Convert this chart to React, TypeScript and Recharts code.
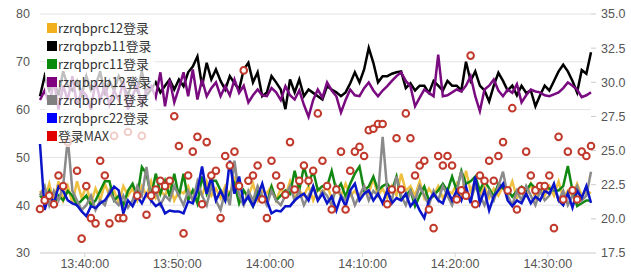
import React from 'react';
import { ComposedChart, Line, Scatter, XAxis, YAxis, CartesianGrid, Legend } from 'recharts';

const START_SEC = 13 * 3600 + 35 * 60 + 10;
const STEP_SEC = 30;

const prc12 = [
  43, 41, 44.5, 40.5, 45, 41, 44, 40.5, 45, 41.5, 44, 40.5, 43.5, 41, 44.5, 42, 43, 40.5, 44, 42,
  43.5, 41, 44, 42, 45, 41.5, 43, 42, 44.5, 41, 43, 42.5, 44, 41, 43.5, 42, 45, 42, 43.5, 41.5,
  44, 42, 46, 41.5, 43, 42, 44.5, 41, 43, 42.5, 44, 41, 43.5, 42, 45, 41.5, 43, 42, 44, 41,
  43.5, 42.5, 44, 41.5, 43, 42, 44.5, 42, 43, 41.5, 44, 42.5, 45.6, 42, 43.5, 41.5, 44, 42, 46.6, 43,
  44, 42, 45, 41.5, 43.5, 42, 44, 41.5, 43, 42.5, 44.5, 42, 47.2, 43, 45, 42, 44, 41.5, 43.5, 42,
  44, 42.5, 45, 41.5, 43, 42, 44.5, 41.5, 43.5, 42, 44, 42, 45, 41.5, 43, 42, 44.5, 42, 43, 42.5,
];

const pzb11 = [
  62.8, 67, 64, 66, 63, 68, 65, 64, 66, 63, 67, 64, 65, 68, 63, 66, 64, 67, 65, 63,
  66, 64, 68, 63, 64.2, 65.7, 63.6, 65, 66.3, 64.2, 66.3, 64.9, 67.8, 69, 71.1, 64.9, 69.8, 66.3, 68.4, 66,
  64.2, 67, 65.5, 64.2, 68.4, 69.8, 65.7, 67.8, 62.8, 63.6, 67, 65.7, 64.2, 60.1, 66.3, 63.6, 66.3, 62.8, 64.2, 63.5,
  62.8, 62.1, 64.9, 64.2, 63.6, 62.8, 63.6, 65.5, 67.8, 65.7, 68.4, 72.9, 69.8, 65.7, 67, 67, 67.5, 67.8, 68, 64.5,
  65.5, 64, 65, 65, 63.5, 66, 65, 64, 66, 65, 65, 64, 70, 66, 68, 65, 64, 61.7, 65, 67.7,
  66, 64, 65, 63, 65, 63.5, 64, 60.7, 63, 65, 64, 66, 68, 69.4, 68, 66, 63.6, 68.3, 67.5, 72,
];

const prc11 = [
  42, 41, 43, 40, 42, 41, 43, 42, 40, 41, 42, 40, 41, 43, 45, 45, 41, 42, 40, 43,
  44.5, 41.8, 48, 46.6, 41.8, 46.6, 42.4, 45.1, 41.8, 46.6, 41.8, 46.6, 41, 43.1, 40.4, 46, 42.4, 45.1, 45.1, 43.1,
  41, 42.5, 44.5, 40.4, 43.1, 41.5, 39.8, 43.1, 41.5, 40.4, 43.9, 41, 42, 43.1, 42.4, 47.2, 43.1, 48.1, 44.5, 47.2,
  43.1, 44, 43.9, 47.2, 43.1, 44.5, 41.8, 44.5, 46.6, 48.1, 43.1, 43.9, 46, 43.1, 44, 44.5, 43.1, 46, 41.5, 42,
  43.1, 39.8, 42, 43.9, 41, 42, 43.1, 44.5, 43, 46, 43.1, 47.2, 44.5, 45, 46, 43.1, 45.1, 43.5, 41.8, 44.5,
  43.5, 43.1, 41.8, 43, 43.9, 43.1, 44.5, 43.5, 43.1, 43.9, 43.5, 43.1, 43.1, 44, 48.2, 43.1, 39.8, 40.4, 41, 41,
];

const pzb12 = [
  62, 64, 61, 66, 60, 65, 62, 67, 61, 64, 63, 60, 66, 62, 65, 61, 64, 62, 66, 60,
  63, 65, 61, 64, 64.9, 62.6, 67.8, 60.7, 66.3, 61.5, 64.5, 67.8, 62.8, 68.4, 62.1, 66.3, 62.8, 64.5, 65.7, 62.8,
  64.9, 63, 66.3, 63.5, 65, 61.5, 63, 64.2, 63, 62.8, 64.5, 63.6, 62, 64.9, 63, 62.1, 64, 61, 58.5, 62,
  64.2, 62.5, 65.7, 64, 62.8, 59.4, 62, 64.2, 63, 62.8, 64.5, 65.7, 64, 62.8, 64, 64.9, 66, 67, 67.8, 66,
  64.9, 60.7, 62.5, 64.2, 63.5, 62.8, 71.5, 62.8, 63, 63.6, 64.2, 63.8, 65, 67, 62.8, 59.7, 64.2, 65, 66.3, 64,
  62.8, 64.2, 63.5, 65.3, 61.5, 63, 64.2, 63.8, 63.6, 63, 62.8, 63.2, 63.6, 64.5, 65.7, 65, 64.2, 62.6, 63, 63.6,
];

const prc21 = [
  42, 44, 40, 43, 41, 44, 54, 43, 41, 39, 40, 42, 39, 41, 40, 43, 41, 40, 42, 39.5,
  41, 44, 42, 48, 41, 43, 40, 42, 41, 44, 42, 40, 43, 41, 45, 42, 40, 44, 41, 39,
  43, 40, 49.3, 42, 40, 43, 41, 44, 42, 40, 43, 41, 40, 42, 44, 41, 43, 40, 42, 44,
  41, 43, 42, 40, 44, 42, 41, 43, 40, 42, 44, 41, 43, 42, 54.3, 43, 41, 46, 42, 40,
  43, 41, 44, 42, 40, 43, 41, 44, 42, 40, 43, 47.2, 42, 41, 44, 42, 40, 43, 41, 44,
  47, 42, 40, 43, 41, 44, 42, 40, 43, 41, 42, 44, 41, 43, 40, 42, 44, 41, 42, 47,
];

const prc22 = [
  52.8, 39, 42.4, 40.4, 43.9, 43, 41, 40.4, 40, 38.7, 37.7, 39.8, 39.4, 40.4, 41, 42.4, 43.9, 43.1, 38.3, 41,
  39.8, 41.8, 40.4, 42.4, 41, 39.8, 40.4, 38.3, 38.9, 38.7, 38.7, 38.3, 40.8, 40.4, 43.1, 48.1, 42.4, 46, 41, 43,
  41, 49.3, 42.4, 46, 40.4, 41.8, 39.8, 41.8, 44.5, 41, 38.3, 38.9, 38.7, 39.8, 39.8, 41, 41.8, 42.4, 41, 43.9,
  41, 42.4, 40.4, 41.8, 38.9, 41.8, 39.8, 43.1, 44.5, 41, 42.4, 43.1, 41, 42.4, 40.4, 43.1, 40.4, 41.5, 41, 42.4,
  39.8, 41, 38.9, 37.3, 41, 42.4, 41, 40.4, 43.1, 41, 43.1, 41, 43.9, 40.4, 46, 40.4, 43.1, 38.9, 41.8, 43.1,
  44.5, 41, 39.8, 41, 40.4, 42.4, 40.4, 41.8, 41, 43.1, 42.4, 44.5, 41, 40, 42.5, 39.5, 43, 41.5, 44, 40.5,
];

const maxLogin: (number | null)[] = [
  39.2, 41, 42, 40.2, 46.2, 44, 53.2, null, 47.2, 33, 44, 37.3, 36.2, 49.3, 46.2, 36.2, 54.5, 37.3, 37.3, 55.3,
  null, 42, 54.5, 38, 42, 43.3, 45.1, 44, 45.1, 58.6, 52.4, 34.1, 46.2, 51.2, 54.3, 40.2, 53.2, 46.2, 47.2, 37.3,
  50.3, 48.3, 51.2, 44, 68.2, 45.1, 46.2, 48.3, 41.2, 37.3, 49.3, 46.2, 44, 42.2, 53.2, 43.3, 45.1, 48.3, 45.1, 47.2,
  59.2, 49.3, 44, 39.1, 43.3, 51.2, 39.1, 47.2, 51.2, 52.2, 50.3, 55.7, 56, 57, 57, 40.2, 43.3, 54, 43.3, 59.2,
  54, 46.2, 48.3, 49.3, 39.1, 35.2, 50.3, 48.3, 50.3, 48.3, 41.2, 43.1, 42, 71.3, 40.2, 46.2, 45.1, 49.3, 45.1, 50.3,
  53.2, 43.1, 60.3, 39.1, 43.1, 51.2, 46.2, 43.1, 44, 44, 46.2, 35.2, 54.3, 41.2, 51.2, 43.1, 41.2, 51.2, 50.3, 52.4,
];

const xTickLabels = ['13:40:00', '13:50:00', '14:00:00', '14:10:00', '14:20:00', '14:30:00'];
const leftTicks = [30, 40, 50, 60, 70, 80];
const rightTicks = [17.5, 20, 22.5, 25, 27.5, 30, 32.5, 35];

const toSec = (s: string) => {
  const [h, m, sec] = s.split(':').map(Number);
  return h * 3600 + m * 60 + sec;
};
const fmt = (v: number) => {
  const h = Math.floor(v / 3600);
  const m = Math.floor((v % 3600) / 60);
  const s = Math.round(v % 60);
  const p = (n: number) => String(n).padStart(2, '0');
  return `${p(h)}:${p(m)}:${p(s)}`;
};

const data = prc12.map((_, i) => ({
  t: START_SEC + i * STEP_SEC,
  prc12: prc12[i],
  pzb11: pzb11[i],
  prc11: prc11[i],
  pzb12: pzb12[i],
  prc21: prc21[i],
  prc22: prc22[i],
  max: maxLogin[i],
}));

const series = [
  { key: 'prc12', name: 'rzrqbprc12登录', color: '#f2b01e', line: '#f0c040' },
  { key: 'pzb11', name: 'rzrqbpzb11登录', color: '#000000', line: '#000000' },
  { key: 'prc11', name: 'rzrqbprc11登录', color: '#0a8a0a', line: '#118811' },
  { key: 'pzb12', name: 'rzrqbpzb12登录', color: '#800080', line: '#7a0a80' },
  { key: 'prc21', name: 'rzrqbprc21登录', color: '#808080', line: '#8a8a8a' },
  { key: 'prc22', name: 'rzrqbprc22登录', color: '#0000ff', line: '#0a14c8' },
];
const maxSeries = { key: 'max', name: '登录MAX', color: '#e00000', stroke: '#c0392b' };

const tickFont = { fill: '#555', fontSize: 12.5, fontFamily: '"Liberation Sans", Arial, sans-serif' };

const LegendBox = () => (
  <div
    style={{
      background: 'rgba(255,255,255,0.75)',
      padding: '2px 4px 2px 2px',
      fontFamily: '"Noto Sans CJK SC", "Noto Sans", sans-serif',
      fontSize: 12.8,
      color: '#333',
      lineHeight: '18px',
    }}
  >
    {[...series.map((s) => ({ name: s.name, color: s.color })), { name: maxSeries.name, color: maxSeries.color }].map(
      (it) => (
        <div key={it.name} style={{ display: 'flex', alignItems: 'center', height: 18 }}>
          <span style={{ width: 10, height: 10, background: it.color, display: 'inline-block', marginRight: 1 }} />
          <span>{it.name}</span>
        </div>
      )
    )}
  </div>
);

const Ring = (props: any) => {
  const { cx, cy, payload } = props;
  if (payload == null || payload.max == null || cx == null || cy == null || isNaN(cy)) return <g />;
  return <circle cx={cx} cy={cy} r={3.3} fill="#fff" stroke={maxSeries.stroke} strokeWidth={2} />;
};

export default function App() {
  return (
    <div style={{ position: 'absolute', left: 0, top: 0, width: 631, height: 280, background: '#fff' }}>
      <ComposedChart width={631} height={280} data={data} margin={{ top: 14, right: 0, left: 0, bottom: 0 }}>
        <CartesianGrid horizontal vertical={false} stroke="#e4e4e4" yAxisId="left" />
        <XAxis
          dataKey="t"
          type="number"
          domain={['dataMin', 'dataMax']}
          ticks={xTickLabels.map(toSec)}
          tickFormatter={fmt}
          height={27}
          stroke="#d8d8d8"
          tickSize={4}
          tick={tickFont}
        />
        <YAxis
          yAxisId="left"
          domain={[30, 80]}
          ticks={leftTicks}
          width={40}
          axisLine={false}
          tickLine={false}
          tickMargin={4}
          tick={tickFont}
        />
        <YAxis
          yAxisId="right"
          orientation="right"
          type="number"
          domain={[17.5, 35]}
          allowDataOverflow
          ticks={rightTicks}
          interval={0}
          tickFormatter={(v: number) => Number(v).toFixed(1)}
          width={40}
          axisLine={false}
          tickLine={{ stroke: '#ccc' }}
          tickSize={5}
          tickMargin={5}
          tick={tickFont}
        />
        <Legend
          layout="vertical"
          align="center"
          verticalAlign="middle"
          wrapperStyle={{ left: 45, top: 17, width: 'auto' }}
          content={() => <LegendBox />}
        />
        <Line
          yAxisId="right"
          dataKey="prc12"
          stroke="none"
          strokeOpacity={0}
          dot={false}
          activeDot={false}
          legendType="none"
          isAnimationActive={false}
        />
        {series.map((s) => (
          <Line
            key={s.key}
            yAxisId="left"
            dataKey={s.key}
            name={s.name}
            stroke={s.line}
            strokeWidth={2.5}
            dot={false}
            activeDot={false}
            isAnimationActive={false}
          />
        ))}
        <Scatter yAxisId="left" dataKey="max" name={maxSeries.name} shape={Ring} isAnimationActive={false} />
      </ComposedChart>
    </div>
  );
}
